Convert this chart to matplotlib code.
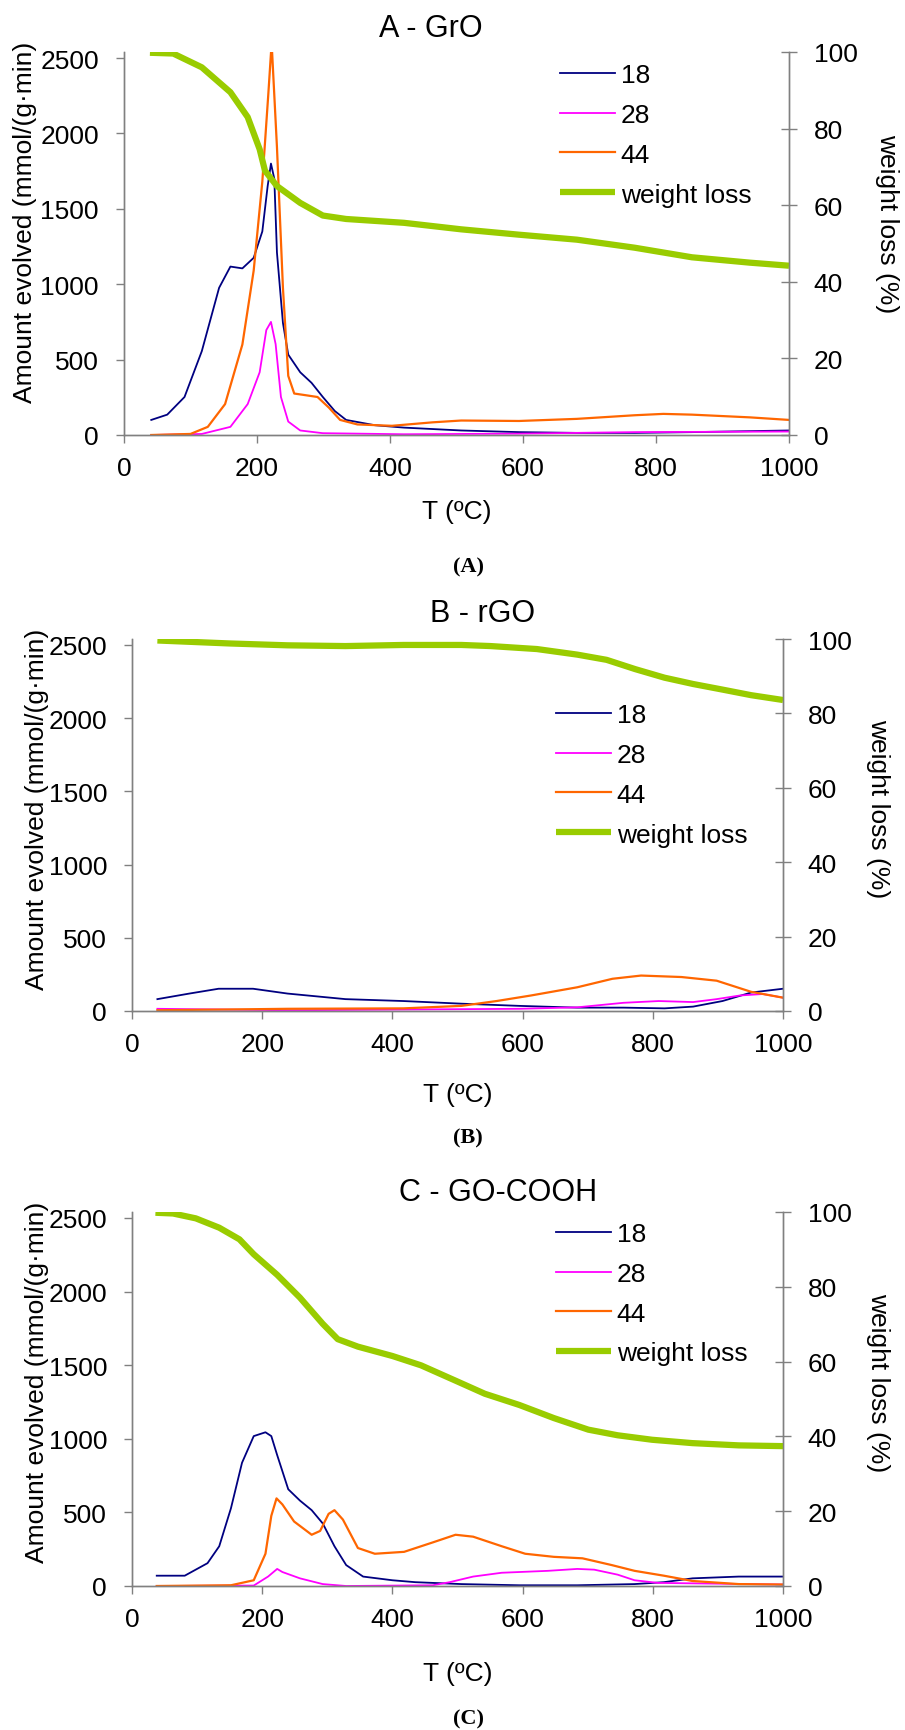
import matplotlib
matplotlib.use('Agg')
import matplotlib.pyplot as plt

plt.rcParams['font.family'] = ['Liberation Sans', 'DejaVu Sans']

NAVY = '#000080'
MAGENTA = '#FF00FF'
ORANGE = '#FF6600'
GREEN = '#99CC00'
AXCOL = '#808080'

# ---------------- A - GrO ----------------
a_t18 = [41, 65, 91, 117, 143, 160, 178, 195, 208, 216, 221, 226, 230, 239, 247, 265, 282, 299, 317, 334, 377, 421,
         507, 594, 681, 768, 854, 1000]
a_v18 = [100, 135, 252, 556, 976, 1117, 1105, 1175, 1350, 1650, 1800, 1700, 1210, 743, 533, 416, 346, 252, 159, 100,
         65, 49, 30, 19, 14, 14, 19, 30]
a_t28 = [41, 117, 160, 186, 204, 214, 221, 228, 236, 247, 265, 299, 421, 594, 768, 1000]
a_v28 = [0, 7, 54, 205, 416, 696, 750, 603, 252, 89, 30, 12, 5, 9, 19, 23]
a_t44 = [41, 100, 126, 152, 178, 195, 208, 217, 222, 230, 239, 247, 256, 273, 291, 308, 325, 351, 403, 464, 507, 594,
         681, 768, 811, 854, 941, 1000]
a_v44 = [0, 7, 54, 205, 600, 1090, 1680, 2260, 2600, 1910, 976, 392, 275, 264, 252, 182, 100, 70, 61, 84, 96, 93,
         107, 131, 140, 135, 117, 100]
a_tw = [39, 74, 117, 160, 186, 204, 212, 230, 265, 299, 334, 421, 507, 594, 681, 768, 854, 941, 1000]
a_w = [99.8, 99.6, 96, 89.5, 83, 74.6, 69, 65, 60.6, 57.3, 56.4, 55.4, 53.7, 52.3, 51, 48.9, 46.4, 45, 44.2]

# ---------------- B - rGO ----------------
b_t18 = [39, 88, 133, 186, 239, 328, 417, 506, 595, 684, 755, 818, 862, 907, 951, 1000]
b_v18 = [81, 119, 152, 152, 119, 81, 68, 50, 35, 23, 23, 18, 30, 68, 126, 152]
b_t28 = [39, 239, 417, 595, 684, 755, 809, 862, 898, 934, 969, 1000]
b_v28 = [15, 5, 10, 15, 25, 56, 68, 61, 81, 106, 116, 91]
b_t44 = [39, 239, 417, 506, 560, 613, 684, 738, 782, 844, 898, 951, 1000]
b_v44 = [5, 15, 18, 35, 68, 106, 162, 220, 242, 232, 207, 131, 91]
b_tw = [39, 150, 239, 328, 417, 506, 551, 622, 684, 729, 773, 818, 862, 907, 951, 1000]
b_w = [99.6, 98.8, 98.3, 98.1, 98.4, 98.4, 98.1, 97.3, 95.8, 94.4, 91.9, 89.6, 87.9, 86.4, 84.9, 83.6]

# ---------------- C - GO-COOH ----------------
c_t18 = [38, 81, 116, 134, 152, 169, 187, 205, 214, 223, 240, 258, 276, 293, 311, 329, 355, 400, 435, 506, 595,
         684, 772, 817, 861, 932, 1000]
c_v18 = [70, 70, 155, 270, 528, 837, 1018, 1044, 1018, 889, 657, 580, 515, 425, 270, 142, 64, 39, 26, 13, 5,
         5, 13, 26, 52, 64, 64]
c_t28 = [38, 187, 209, 223, 231, 258, 293, 329, 462, 488, 524, 568, 639, 684, 710, 746, 772, 808, 861, 949, 1000]
c_v28 = [0, 3, 64, 116, 95, 52, 13, 0, 5, 26, 64, 90, 103, 116, 111, 77, 39, 21, 18, 13, 10]
c_t44 = [38, 152, 187, 205, 214, 222, 231, 249, 276, 289, 302, 311, 324, 347, 373, 418, 462, 497, 524, 568, 604,
         648, 692, 737, 772, 817, 861, 932, 1000]
c_v44 = [0, 5, 39, 219, 477, 595, 554, 438, 348, 374, 490, 515, 451, 258, 219, 232, 296, 348, 335, 270, 219,
         198, 188, 142, 103, 70, 34, 13, 10]
c_tw = [36, 63, 98, 134, 165, 187, 223, 258, 293, 316, 347, 400, 444, 497, 542, 595, 648, 701, 746, 799, 861, 932,
        1000]
c_w = [99.8, 99.6, 98.3, 95.8, 92.7, 88.7, 83.2, 77.1, 70.1, 66, 64, 61.5, 59, 54.9, 51.4, 48.4, 44.9, 41.8, 40.3,
       39.1, 38.2, 37.6, 37.4]

FS = 19
W, H = 905, 1731


def panel(fig, rect, t18, v18, t28, v28, t44, v44, tw, w, title, title_x, title_y, leg_x, leg_y,
          ylab_x, ylab_y, rlab_x, rlab_y, xlab_pad, tag, tag_y):
    ax = fig.add_axes(rect)
    ax2 = ax.twinx()

    l18, = ax.plot(t18, v18, color=NAVY, lw=1.3, label='18')
    l28, = ax.plot(t28, v28, color=MAGENTA, lw=1.3, label='28')
    l44, = ax.plot(t44, v44, color=ORANGE, lw=1.6, label='44')
    lwl, = ax2.plot(tw, w, color=GREEN, lw=4.5, label='weight loss', solid_capstyle='butt')

    ax.set_xlim(0, 1000)
    ax.set_ylim(0, 2540)
    ax2.set_ylim(0, 100)
    ax.set_xticks(range(0, 1001, 200))
    ax.set_yticks(range(0, 2501, 500))
    ax2.set_yticks(range(0, 101, 20))

    for a in (ax, ax2):
        a.spines['top'].set_visible(False)
        for s in ('left', 'right', 'bottom'):
            a.spines[s].set_color(AXCOL)
            a.spines[s].set_linewidth(1)
    ax.tick_params(axis='y', labelsize=FS, length=6, width=1, color=AXCOL, pad=12, direction='out')
    ax.tick_params(axis='x', labelsize=FS, length=6, width=1, color=AXCOL, pad=9, direction='out')
    ax2.tick_params(axis='y', labelsize=FS, length=11.5, width=1, color=AXCOL, pad=12, direction='inout')

    fig.text(title_x / W, 1 - title_y / H, title, fontsize=22, ha='center', va='center')
    fig.text(ylab_x / W, 1 - ylab_y / H, 'Amount evolved (mmol/(g·min)', fontsize=FS, rotation=90,
             ha='center', va='center')
    fig.text(rlab_x / W, 1 - rlab_y / H, 'weight loss (%)', fontsize=FS, rotation=270,
             ha='center', va='center')
    ax.set_xlabel('T (ºC)', fontsize=FS, labelpad=xlab_pad)
    fig.text(468 / W, 1 - tag_y / H, tag, fontsize=16, fontweight='bold', ha='center', va='center',
             family=['Liberation Serif', 'DejaVu Serif'])

    handles = [l18, l28, l44, lwl]
    ax2.legend(handles=handles, labels=[h.get_label() for h in handles], loc='upper left',
               bbox_to_anchor=(leg_x / W, 1 - leg_y / H), bbox_transform=fig.transFigure,
               frameon=False, fontsize=FS, handlelength=2.1, handletextpad=0.2, labelspacing=0.6,
               borderpad=0, borderaxespad=0)
    return ax, ax2


fig = plt.figure(figsize=(W / 100, H / 100), dpi=100)

panel(fig, [124 / W, 1 - 436 / H, 665 / W, 383 / H], a_t18, a_v18, a_t28, a_v28, a_t44, a_v44, a_tw, a_w,
      'A - GrO', 431, 29, 560, 64, 25, 222, 887, 224, 14, '(A)', 567)
panel(fig, [132 / W, 1 - 1012 / H, 651 / W, 372 / H], b_t18, b_v18, b_t28, b_v28, b_t44, b_v44, b_tw, b_w,
      'B - rGO', 483, 614, 556, 704, 37, 809, 878, 809, 19, '(B)', 1138)
panel(fig, [132 / W, 1 - 1587 / H, 651 / W, 374 / H], c_t18, c_v18, c_t28, c_v28, c_t44, c_v44, c_tw, c_w,
      'C - GO-COOH', 498, 1193, 556, 1223, 37, 1382, 878, 1383, 22, '(C)', 1719)

plt.savefig('out.png', dpi=100)
